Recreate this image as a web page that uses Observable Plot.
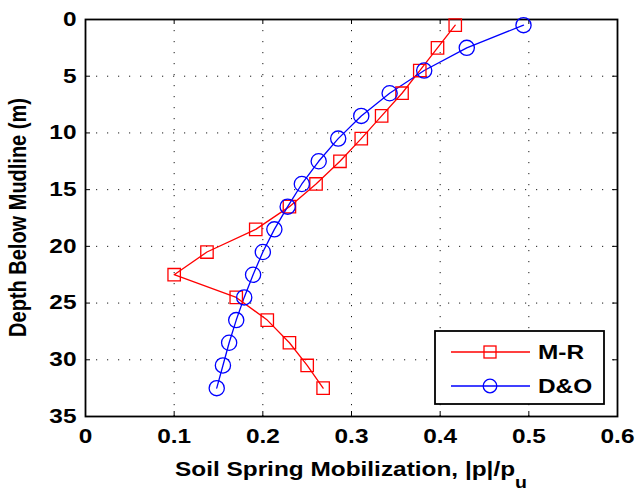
<!DOCTYPE html>
<html><head><meta charset="utf-8">
<script src="https://cdn.jsdelivr.net/npm/d3@7"></script>
<script src="https://cdn.jsdelivr.net/npm/@observablehq/plot@0.6"></script>
<style>
body{margin:0;background:#fff}
svg{font-family:"Liberation Sans",Arial,sans-serif}
</style>
</head><body><div id="chart"></div>
<script>
const depths = [0.5,2.5,4.5,6.5,8.5,10.5,12.5,14.5,16.5,18.5,20.5,22.5,24.5,26.5,28.5,30.5,32.5];
const mrValues = [0.417,0.397,0.377,0.357,0.334,0.311,0.287,0.260,0.230,0.192,0.137,0.100,0.170,0.205,0.230,0.250,0.268];
const doValues = [0.494,0.430,0.382,0.343,0.311,0.285,0.263,0.244,0.228,0.213,0.200,0.189,0.179,0.170,0.162,0.155,0.148];
const seriesNames = ["M-R","D&O"];
const seriesColors = ["#ff0000","#0000ff"];
const seriesSymbols = ["square","circle"];
const xTicks = [0,0.1,0.2,0.3,0.4,0.5,0.6];
const yTicks = [0,5,10,15,20,25,30,35];
const xLabel = "Soil Spring Mobilization, |p|/p";
const xLabelSub = "u";
const yLabel = "Depth Below Mudline (m)";

const rows = [];
[mrValues, doValues].forEach((vals, s) => {
  vals.forEach((v, i) => rows.push({series: seriesNames[s], depth: depths[i], value: v}));
});

const W = 636, H = 493, mL = 85, mR = 19, mT = 19, mB = 77;
const innerH = H - mT - mB, innerW = W - mL - mR;
const tk = 5;
const FS = 20;        // font size
const SX = 1.22;      // horizontal stretch of the reference's text rendering

const chart = Plot.plot({
  width: W, height: H,
  marginLeft: mL, marginRight: mR, marginTop: mT, marginBottom: mB,
  style: {fontFamily: "Liberation Sans, Arial, sans-serif", background: "#fff"},
  x: {domain: [0, 0.6]},
  y: {domain: [0, 35], reverse: true},
  color: {domain: seriesNames, range: seriesColors},
  symbol: {domain: seriesNames, range: seriesSymbols},
  marks: [
    Plot.gridX(xTicks, {stroke: "#000", strokeOpacity: 0.9, strokeDasharray: "1.2,9.8"}),
    Plot.gridY(yTicks, {stroke: "#000", strokeOpacity: 0.9, strokeDasharray: "1.2,9.8"}),
    Plot.tickX(xTicks, {x: d => d, stroke: "#000", insetTop: innerH - tk}),
    Plot.tickX(xTicks, {x: d => d, stroke: "#000", insetBottom: innerH - tk}),
    Plot.tickY(yTicks, {y: d => d, stroke: "#000", insetLeft: innerW - tk}),
    Plot.tickY(yTicks, {y: d => d, stroke: "#000", insetRight: innerW - tk}),
    Plot.axisX(xTicks, {tickSize: 0, tickPadding: 12, fontSize: FS, fontWeight: "bold", fill: "#000", label: null, tickFormat: d => String(d)}),
    Plot.axisY(yTicks, {tickSize: 0, tickPadding: 9, fontSize: FS, fontWeight: "bold", fill: "#000", label: null}),
    Plot.frame({stroke: "#000", strokeWidth: 1.8}),
    Plot.line(rows, {x: "value", y: "depth", z: "series", stroke: "series", strokeWidth: 1.3}),
    Plot.dot(rows, {filter: d => d.series === seriesNames[0], x: "value", y: "depth", stroke: "series", symbol: "series", r: 7, strokeWidth: 1.3, fill: "none"}),
    Plot.dot(rows, {filter: d => d.series === seriesNames[1], x: "value", y: "depth", stroke: "series", symbol: "series", r: 7.6, strokeWidth: 1.3, fill: "none"})
  ]
});
document.getElementById("chart").appendChild(chart);

function stretch(el, s) {
  const x = +el.getAttribute("x") || 0, y = +el.getAttribute("y") || 0;
  const t = el.getAttribute("transform") || "";
  el.setAttribute("transform", `${t} translate(${x},${y}) scale(${s},1) translate(${-x},${-y})`);
}
chart.querySelectorAll('g[aria-label$="tick label"]').forEach(g => {
  g.setAttribute("font-size", FS);
  g.setAttribute("font-weight", "bold");
  g.setAttribute("fill", "#000");
});
chart.querySelectorAll('g[aria-label$="tick label"] text').forEach(el => stretch(el, SX));

const svg = d3.select(chart);
// axis titles
svg.append("text")
  .attr("transform", `translate(26,${mT + innerH/2}) scale(${SX},1) rotate(-90)`)
  .attr("text-anchor", "middle")
  .attr("font-size", FS).attr("font-weight", "bold").attr("fill", "#000")
  .text(yLabel);
const xt = svg.append("text")
  .attr("transform", `translate(${mL + innerW/2},476) scale(${SX},1)`)
  .attr("text-anchor", "middle")
  .attr("font-size", FS).attr("font-weight", "bold").attr("fill", "#000");
xt.append("tspan").text(xLabel);
xt.append("tspan").attr("dy", 12).attr("font-size", 16).text(xLabelSub);

// legend
const lg = svg.append("g");
lg.append("rect").attr("x", 435).attr("y", 331).attr("width", 169).attr("height", 73)
  .attr("fill", "#fff").attr("stroke", "#000").attr("stroke-width", 1.8);
seriesNames.forEach((name, i) => {
  const cy = 352 + i * 34;
  lg.append("line").attr("x1", 451).attr("x2", 530).attr("y1", cy).attr("y2", cy)
    .attr("stroke", seriesColors[i]).attr("stroke-width", 1.3);
  if (seriesSymbols[i] === "square") {
    lg.append("rect").attr("x", 484).attr("y", cy - 6).attr("width", 12).attr("height", 12)
      .attr("fill", "none").attr("stroke", seriesColors[i]).attr("stroke-width", 1.3);
  } else {
    lg.append("circle").attr("cx", 490).attr("cy", cy).attr("r", 6.8)
      .attr("fill", "none").attr("stroke", seriesColors[i]).attr("stroke-width", 1.3);
  }
  lg.append("text")
    .attr("transform", `translate(538,${cy}) scale(${SX},1)`)
    .attr("text-anchor", "start")
    .attr("dy", "0.36em")
    .attr("font-size", FS).attr("font-weight", "bold").attr("fill", "#000").text(name);
});
</script>
</body></html>
